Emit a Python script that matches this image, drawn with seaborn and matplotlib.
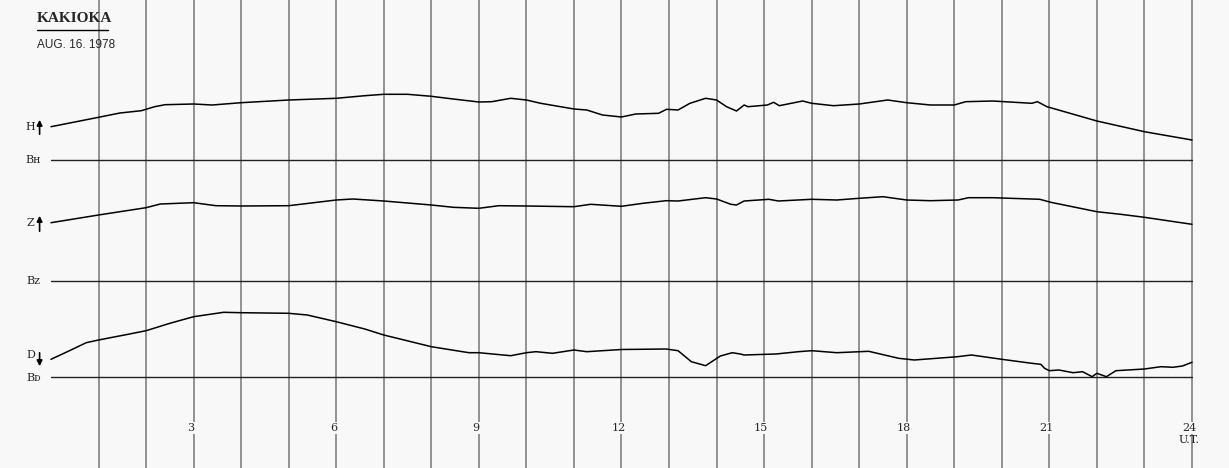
import pandas as pd
import seaborn as sns
import matplotlib.pyplot as plt

# Kakioka magnetogram, Aug 16 1978 - traces
# values are deflection above each trace's baseline (chart pixels), time in hours UT
h_time = [0, 1, 1.45, 1.9, 2.18, 2.4, 3, 3.39, 4, 5, 6, 6.6, 7, 7.5, 8, 8.46, 9, 9.27,
          9.67, 10, 10.3, 11, 11.27, 11.6, 12, 12.3, 12.78, 12.95, 13.19, 13.44, 13.77,
          14.0, 14.21, 14.42, 14.58, 14.66, 15.07, 15.2, 15.32, 15.81, 16, 16.46, 17,
          17.6, 18, 18.5, 19, 19.24, 19.81, 20.63, 20.75, 20.95, 22, 23, 24]
h_vals = [33.3, 42.7, 47, 49.3, 53.3, 55.3, 56, 55, 57.3, 60, 61.7, 64.3, 65.7, 65.7,
          63.7, 61, 58, 58.3, 61.7, 60, 56.7, 51, 50, 45, 43, 46, 46.7, 50.7, 50, 56.7,
          61.7, 60, 53.3, 49, 55, 53.3, 55, 57.7, 54.3, 59, 56.7, 54.3, 56, 60, 57.3,
          55, 55, 58.3, 59, 56.7, 58.3, 53.3, 39, 28.3, 20]

z_time = [0, 1, 2, 2.3, 3, 3.47, 4, 5, 6, 6.35, 7, 8, 8.46, 9, 9.42, 10, 11, 11.35, 12,
          12.45, 12.94, 13.19, 13.77, 14, 14.3, 14.42, 14.58, 15.1, 15.3, 16, 16.53, 17,
          17.5, 18, 18.5, 19.08, 19.3, 19.81, 20.8, 21.03, 22, 22.5, 23, 24]
z_vals = [58.3, 66, 73.3, 77, 78.3, 75.3, 75, 75.3, 81, 82, 80, 76, 73.7, 72.7, 75.3,
          75, 74.3, 76.7, 74.7, 77.7, 80.3, 80, 83.3, 82, 76.7, 76, 80, 81.7, 80, 81.7,
          81, 82.7, 84.3, 81, 80.3, 81, 83.3, 83.3, 81.7, 78.7, 69.3, 66.7, 63.7, 56.7]

d_time = [0, 0.42, 0.74, 1, 1.62, 2, 2.5, 3, 3.63, 4, 5, 5.39, 6, 6.6, 7, 8, 8.79, 9,
          9.67, 10, 10.2, 10.55, 11, 11.27, 12, 12.94, 13.19, 13.47, 13.77, 14.08, 14.33,
          14.5, 14.58, 15.25, 15.72, 16, 16.53, 17.2, 17.83, 18.16, 19.07, 19.36, 20,
          20.63, 20.82, 20.9, 21, 21.2, 21.5, 21.7, 21.9, 22.0, 22.2, 22.4, 23, 23.35,
          23.6, 23.8, 24]
d_vals = [17.7, 27, 34.3, 37, 42.7, 46.3, 53.7, 60.3, 64.7, 64.3, 63.7, 62, 55.3, 48,
          42, 30.3, 24.3, 24.3, 21.3, 24.3, 25.3, 23.7, 27, 25.3, 27.5, 28, 26.3, 15.3,
          11.3, 21, 24.3, 23, 22, 23, 25.3, 26.3, 24.3, 25.7, 18.7, 17, 20.3, 22, 17.7,
          13.7, 12.7, 8.7, 6.3, 7, 4.3, 5.3, 0.3, 3.7, 0.3, 6.3, 8, 10.3, 9.7, 11, 14.7]

hour_ticks = [3, 6, 9, 12, 15, 18, 21, 24]

# baseline levels of the three traces (chart pixels from the bottom)
baselines = {'H': 308, 'Z': 187, 'D': 91}

frames = []
for name, t, v in [('H', h_time, h_vals), ('Z', z_time, z_vals), ('D', d_time, d_vals)]:
    frames.append(pd.DataFrame({'hour': t, 'level': [baselines[name] + x for x in v], 'comp': name}))
df = pd.concat(frames, ignore_index=True)

sns.set_style('white')
fig = plt.figure(figsize=(12.29, 4.68), dpi=100, facecolor='#f8f8f8')
ax = fig.add_axes([0, 0, 1, 1])
ax.set_facecolor('#f8f8f8')

# hourly grid
for hr in range(1, 25):
    ax.axvline(hr, color='#8a8a8a', lw=1.3, zorder=1)

# baselines
for lvl in baselines.values():
    ax.plot([0, 24], [lvl, lvl], color='#222222', lw=1.0, zorder=2)

# traces
for name in ['H', 'Z', 'D']:
    sns.lineplot(data=df[df['comp'] == name], x='hour', y='level', color='black',
                 lw=1.1, ax=ax, zorder=3, estimator=None, sort=True)

ax.set_xlim(-51 / 47.54, (1229 - 51) / 47.54)
ax.set_ylim(0, 468)
ax.axis('off')

serif = ['DejaVu Serif']

# hour labels
for hr in hour_ticks:
    ax.text(hr - 0.06, 40, str(hr), ha='center', va='center', fontsize=8,
            family=serif, zorder=4,
            bbox=dict(facecolor='#f8f8f8', edgecolor='none', pad=1))
ax.text(24 - 0.06, 28, 'U.T.', ha='center', va='center', fontsize=8, family=serif, zorder=4)

# title block
ax.text(-0.3, 449, 'KAKIOKA', ha='left', va='center', fontsize=11, fontweight='bold',
        family=['Liberation Serif', 'DejaVu Serif'])
ax.plot([-0.3, 1.2], [438.5, 438.5], color='black', lw=1.0)
ax.text(-0.3, 423, 'AUG. 16. 1978', ha='left', va='center', fontsize=8.5,
        family=['Liberation Sans Narrow', 'Liberation Sans'])

# component and baseline labels
ax.text(-0.43, 341, 'H', ha='center', va='center', fontsize=8, family=serif)
ax.annotate('', xy=(-0.24, 351), xytext=(-0.24, 331),
            arrowprops=dict(arrowstyle='-|>', color='black', lw=1.2, mutation_scale=8))
ax.text(-0.37, 308, 'Bʜ', ha='center', va='center', fontsize=8, family=serif)

ax.text(-0.43, 245, 'Z', ha='center', va='center', fontsize=8, family=serif)
ax.annotate('', xy=(-0.24, 255), xytext=(-0.24, 234),
            arrowprops=dict(arrowstyle='-|>', color='black', lw=1.2, mutation_scale=8))
ax.text(-0.37, 187, 'Bz', ha='center', va='center', fontsize=8, family=serif)

ax.text(-0.43, 113, 'D', ha='center', va='center', fontsize=8, family=serif)
ax.annotate('', xy=(-0.24, 99), xytext=(-0.24, 118),
            arrowprops=dict(arrowstyle='-|>', color='black', lw=1.2, mutation_scale=8))
ax.text(-0.37, 90, 'Bᴅ', ha='center', va='center', fontsize=8, family=serif)

plt.savefig('out.png', dpi=100, facecolor=fig.get_facecolor())
